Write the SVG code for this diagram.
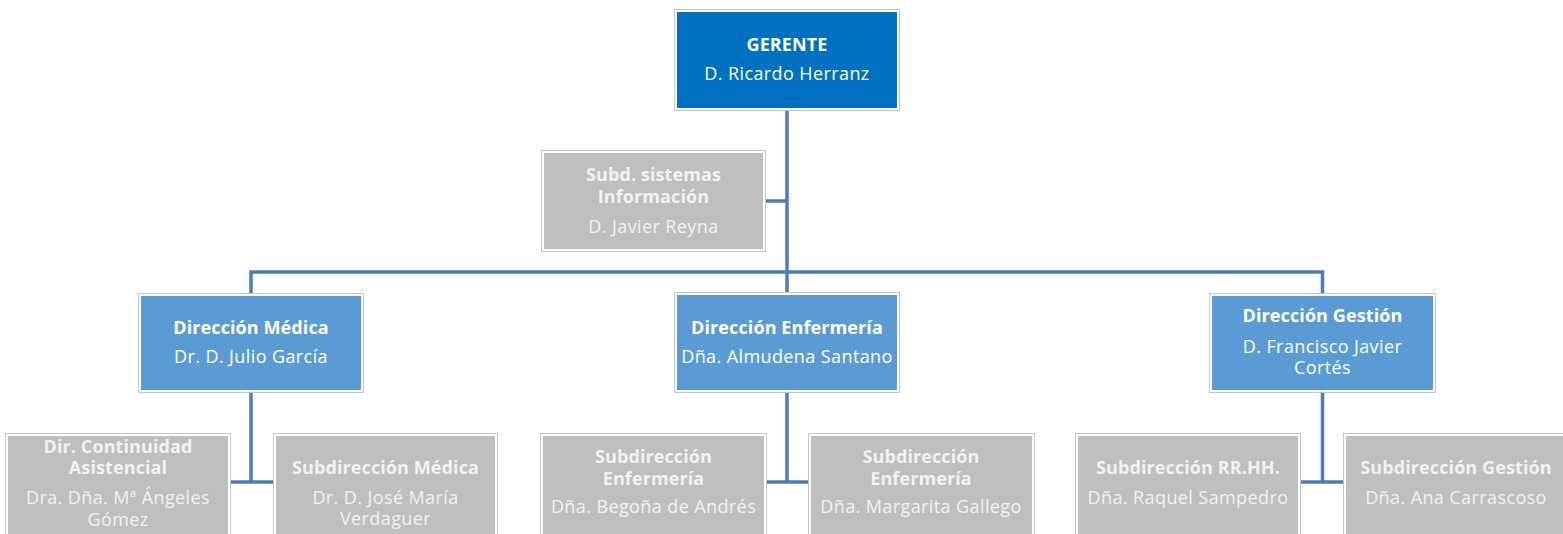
<svg xmlns="http://www.w3.org/2000/svg" width="1563" height="534" viewBox="0 0 1563 534">
<style>
.frame{fill:#ffffff;stroke:#c6c6c6;stroke-width:1}
.dark{fill:#0070c0}
.blue{fill:#5b9bd5}
.grey{fill:#bfbfbf}
.conn{fill:none;stroke:#4a7ebb;stroke-width:3.5}
text{font-family:"Open Sans","Liberation Sans",sans-serif;font-size:18px;letter-spacing:0.4px;text-anchor:middle}
.w{fill:#ffffff}
.g{fill:#f2f2f2}
.b{font-weight:bold;letter-spacing:0.1px}
</style>
<g id="connectors">
<path class="conn" d="M787 111 V293"/>
<path class="conn" d="M766 201 H787"/>
<path class="conn" d="M251 293 V272 H1322.5 V293"/>
<path class="conn" d="M251 393 V482 M231 482 H273"/>
<path class="conn" d="M787 393 V482 M767 482 H808"/>
<path class="conn" d="M1322.5 393 V482 M1301 482 H1343"/>
</g>
<g id="gerente">
<rect class="frame" x="674.5" y="9.5" width="225" height="101"/>
<rect class="dark" x="677" y="12" width="220" height="96"/>
<text class="w b" x="787" y="51">GERENTE</text>
<text class="w" x="787" y="80">D. Ricardo Herranz</text>
</g>
<g id="subd-sistemas">
<rect class="frame" x="541.5" y="150.5" width="224" height="101"/>
<rect class="grey" x="544" y="153" width="219" height="96"/>
<text class="g b" x="653.5" y="181">Subd. sistemas</text>
<text class="g b" x="653.5" y="203">Información</text>
<text class="g" x="653.5" y="233">D. Javier Reyna</text>
</g>
<g id="dir-medica">
<rect class="frame" x="138.5" y="293.5" width="225" height="99"/>
<rect class="blue" x="141" y="296" width="220" height="94"/>
<text class="w b" x="251" y="334">Dirección Médica</text>
<text class="w" x="251" y="363">Dr. D. Julio García</text>
</g>
<g id="dir-enfermeria">
<rect class="frame" x="674.5" y="292.5" width="225" height="100"/>
<rect class="blue" x="677" y="295" width="220" height="95"/>
<text class="w b" x="787" y="334">Dirección Enfermería</text>
<text class="w" x="787" y="363">Dña. Almudena Santano</text>
</g>
<g id="dir-gestion">
<rect class="frame" x="1209.5" y="293.5" width="226" height="99"/>
<rect class="blue" x="1212" y="296" width="221" height="94"/>
<text class="w b" x="1322.5" y="322">Dirección Gestión</text>
<text class="w" x="1322.5" y="353">D. Francisco Javier</text>
<text class="w" x="1322.5" y="374">Cortés</text>
</g>
<g id="dir-continuidad">
<rect class="frame" x="5.5" y="433.5" width="225" height="110"/>
<rect class="grey" x="8" y="436" width="220" height="110"/>
<text class="g b" x="118" y="453">Dir. Continuidad</text>
<text class="g b" x="118" y="474">Asistencial</text>
<text class="g" x="118" y="504">Dra. Dña. Mª Ángeles</text>
<text class="g" x="118" y="526">Gómez</text>
</g>
<g id="subdir-medica">
<rect class="frame" x="273.5" y="433.5" width="224" height="110"/>
<rect class="grey" x="276" y="436" width="219" height="110"/>
<text class="g b" x="385.5" y="474">Subdirección Médica</text>
<text class="g" x="385.5" y="504">Dr. D. José María</text>
<text class="g" x="385.5" y="525">Verdaguer</text>
</g>
<g id="subdir-enfermeria-1">
<rect class="frame" x="540.5" y="433.5" width="226" height="110"/>
<rect class="grey" x="543" y="436" width="221" height="110"/>
<text class="g b" x="653.5" y="463">Subdirección</text>
<text class="g b" x="653.5" y="485">Enfermería</text>
<text class="g" x="653.5" y="513">Dña. Begoña de Andrés</text>
</g>
<g id="subdir-enfermeria-2">
<rect class="frame" x="808.5" y="433.5" width="226" height="110"/>
<rect class="grey" x="811" y="436" width="221" height="110"/>
<text class="g b" x="921" y="463">Subdirección</text>
<text class="g b" x="921" y="485">Enfermería</text>
<text class="g" x="921" y="513">Dña. Margarita Gallego</text>
</g>
<g id="subdir-rrhh">
<rect class="frame" x="1075.5" y="433.5" width="225" height="110"/>
<rect class="grey" x="1078" y="436" width="220" height="110"/>
<text class="g b" x="1188" y="474">Subdirección RR.HH.</text>
<text class="g" x="1188" y="504">Dña. Raquel Sampedro</text>
</g>
<g id="subdir-gestion">
<rect class="frame" x="1343.5" y="433.5" width="226" height="110"/>
<rect class="grey" x="1346" y="436" width="221" height="110"/>
<text class="g b" x="1456" y="474">Subdirección Gestión</text>
<text class="g" x="1456" y="504">Dña. Ana Carrascoso</text>
</g>
</svg>
